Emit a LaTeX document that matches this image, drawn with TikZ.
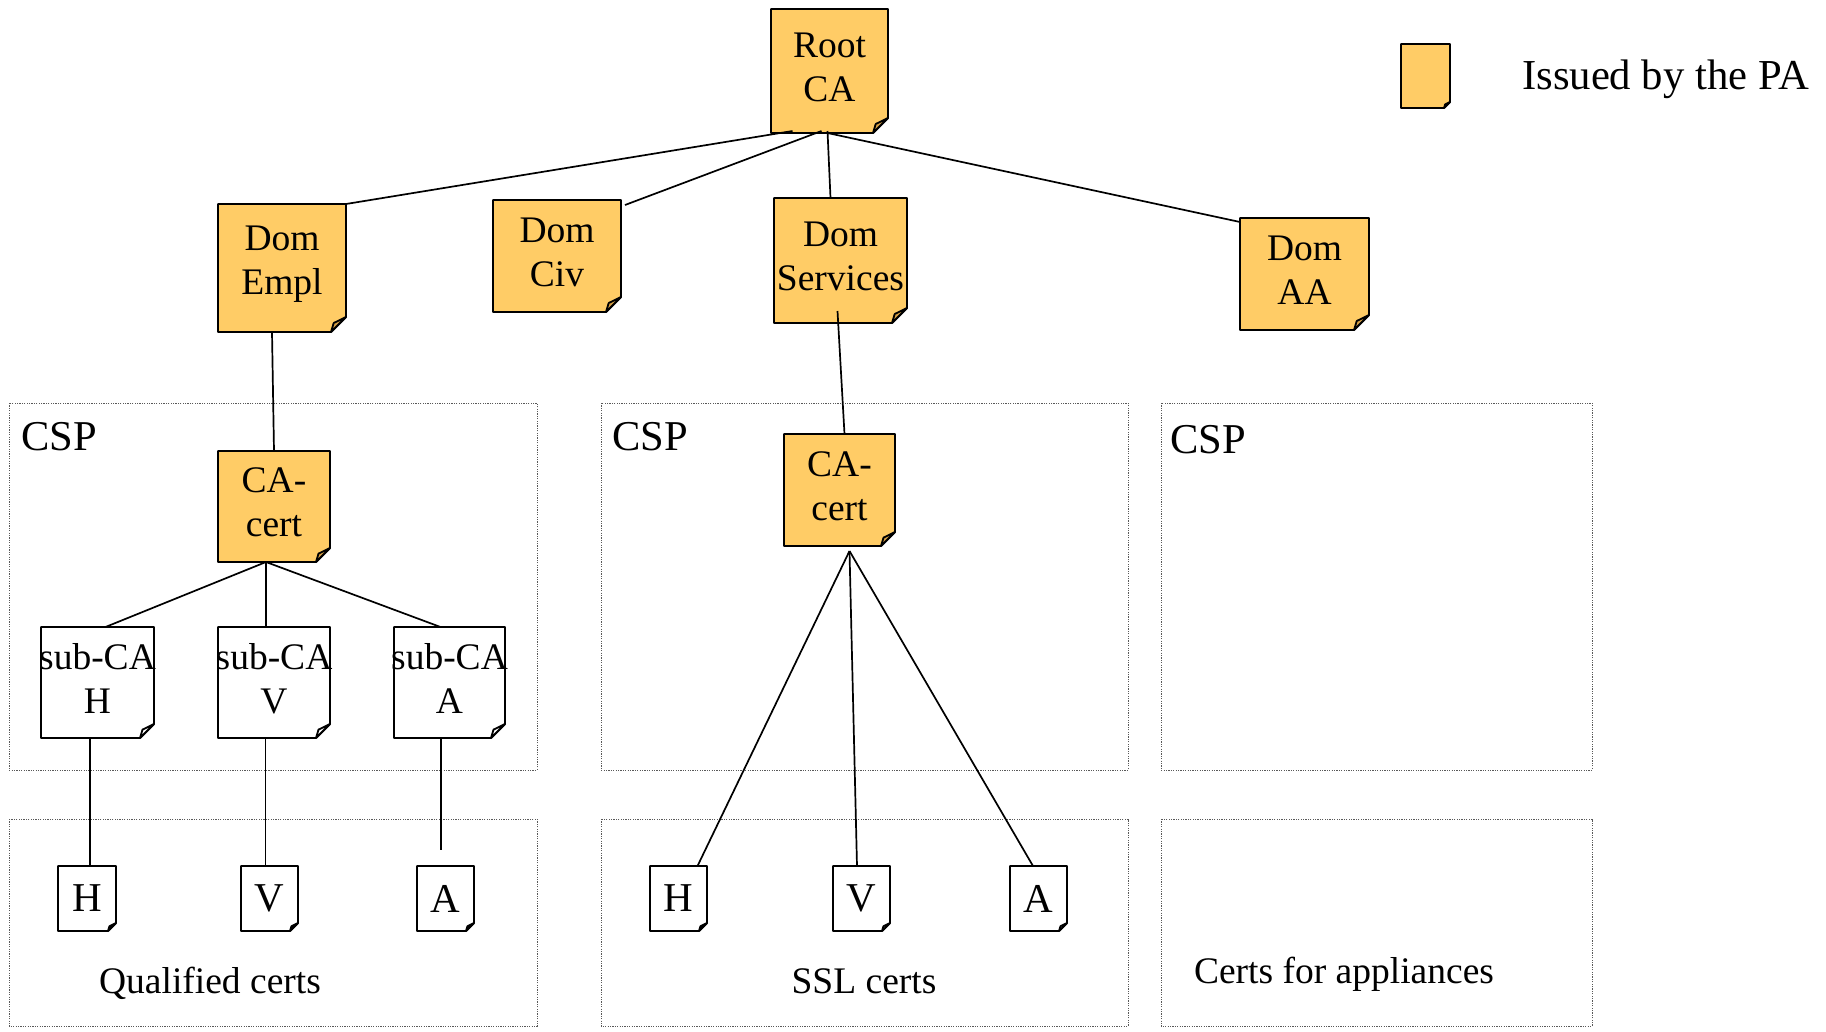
\documentclass[tikz,border=0pt]{standalone}
\usepackage{fontspec}
\setmainfont{Liberation Serif}
\definecolor{pa}{RGB}{255,204,102}
\definecolor{paflap}{RGB}{214,160,70}
\tikzset{
  docline/.style={line width=1.8pt, line join=round},
  docbox/.style={inner sep=0pt, outer sep=0pt, draw=none},
  doctext/.style={inner sep=0pt, outer sep=0pt, align=center, draw=none,
    font=\fontsize{37.5}{44}\selectfont},
  conn/.style={line width=1.7pt},
  cspline/.style={line width=1pt, black!65, dash pattern=on 1.2pt off 1.2pt},
  lbl/.style={inner sep=0pt, font=\fontsize{37.5}{44}\selectfont},
}
\newcommand{\tshift}{4}
% #1 name, #2 x1, #3 y1, #4 x2, #5 y2, #6 fold, #7 fill, #8 flap fill, #9 text
\newcommand{\docnode}[9]{%
  \filldraw[docline, fill=#7] (#2,#3) -- (#4,#3) -- (#4,#5-#6) -- (#4-#6,#5) -- (#2,#5) -- cycle;
  \filldraw[docline, fill=#8] (#4-#6,#5) -- (#4-0.82*#6,#5-0.6*#6) -- (#4,#5-#6) -- cycle;
  \node[docbox, minimum width={#4-#2}, minimum height={#5-#3}] (#1) at ({(#2+#4)/2},{(#3+#5)/2}) {};
  \node[doctext] (#1-text) at ([yshift=\tshift]#1.center) {#9};
}
\begin{document}
\begin{tikzpicture}[x=1pt,y=-1pt]
\useasboundingbox (0,0) rectangle (1826,1031);
\fill[white] (0,0) rectangle (1826,1031);

% dotted CSP boxes
\draw[cspline] (9,403) rectangle (537,770);
\draw[cspline] (601,403) rectangle (1128,770);
\draw[cspline] (1161,403) rectangle (1592,770);
\draw[cspline] (9,819) rectangle (537,1026);
\draw[cspline] (601,819) rectangle (1128,1026);
\draw[cspline] (1161,819) rectangle (1592,1026);

% PA issued certificates
\docnode{root}{771}{9}{888}{133}{15}{pa}{paflap}{Root\\CA}
\docnode{dempl}{218}{204}{346}{332}{15}{pa}{paflap}{Dom\\Empl}
\docnode{dciv}{493}{200}{621}{312}{15}{pa}{paflap}{Dom\\Civ}
\docnode{dserv}{774}{198}{907}{323}{15}{pa}{paflap}{Dom\\Services}
\docnode{daa}{1240}{218}{1369}{330}{15}{pa}{paflap}{Dom\\AA}
\docnode{caone}{218}{451}{330}{562}{14}{pa}{paflap}{CA-\\cert}
\docnode{catwo}{784}{434}{895}{546}{14}{pa}{paflap}{CA-\\cert}
\docnode{legend}{1401}{44}{1450}{108}{6}{pa}{paflap}{}

% sub-CAs
\docnode{subH}{41}{627}{154}{738}{14}{white}{white}{sub-CA\\H}
\docnode{subV}{218}{627}{330}{738}{14}{white}{white}{sub-CA\\V}
\docnode{subA}{394}{627}{505}{738}{14}{white}{white}{sub-CA\\A}

% leaf certificates
\renewcommand{\tshift}{0}
\docnode{leafHa}{58}{866}{116}{931}{8}{white}{white}{\fontsize{41}{44}\selectfont H}
\docnode{leafVa}{241}{866}{298}{931}{8}{white}{white}{\fontsize{41}{44}\selectfont V}
\docnode{leafAa}{417}{866}{474}{931}{8}{white}{white}{\fontsize{41}{44}\selectfont A}
\docnode{leafHb}{650}{866}{707}{931}{8}{white}{white}{\fontsize{41}{44}\selectfont H}
\docnode{leafVb}{833}{866}{890}{931}{8}{white}{white}{\fontsize{41}{44}\selectfont V}
\docnode{leafAb}{1010}{866}{1067}{931}{8}{white}{white}{\fontsize{41}{44}\selectfont A}

% connectors from root
\draw[conn] ([xshift=-37,yshift=2]root.south) -- (dempl.north east);
\draw[conn] ([xshift=-8,yshift=2]root.south) -- ([xshift=4,yshift=-5]dciv.north east);
\draw[conn] ([xshift=-2,yshift=2]root.south) -- ([xshift=-10]dserv.north);
\draw[conn] ([xshift=-2]root.south) -- ([yshift=-4]daa.north west);

% domain CAs to CA-certs
\draw[conn] ([xshift=-10]dempl.south) -- (caone.north);
\draw[conn] ([xshift=-3,yshift=12]dserv.south) -- ([xshift=5]catwo.north);

% CA-cert (left) to sub-CAs
\coordinate (cab) at ([xshift=-8]caone.south);
\draw[conn] (cab) -- ([xshift=8]subH.north);
\draw[conn] (cab) -- ([xshift=-8]subV.north);
\draw[conn] (cab) -- ([xshift=-9]subA.north);

% sub-CAs to leaves
\coordinate (sH) at ([xshift=-7.5]subH.south);
\coordinate (sV) at ([xshift=-8.5]subV.south);
\coordinate (sA) at ([xshift=-8.5]subA.south);
\coordinate (eA) at (sA |- leafAa.north);
\draw[conn] (sH) -- (sH |- leafHa.north);
\draw[conn] (sV) -- (sV |- leafVa.north);
\draw[conn] (sA) -- ([yshift=16]eA);

% CA-cert (middle) to SSL leaves
\coordinate (cbb) at ([xshift=10,yshift=-5]catwo.south);
\draw[conn] (cbb) -- ([xshift=19]leafHb.north);
\draw[conn] (cbb) -- ([xshift=-4.5]leafVb.north);
\draw[conn] (cbb) -- ([xshift=-5.5]leafAb.north);

% labels
\node[lbl, anchor=west, font=\fontsize{42.5}{44}\selectfont] (cspa) at (21,437) {CSP};
\node[lbl, anchor=west, font=\fontsize{42.5}{44}\selectfont] (cspb) at (612,437) {CSP};
\node[lbl, anchor=west, font=\fontsize{42.5}{44}\selectfont] (cspc) at (1170,440) {CSP};
\node[lbl] (qual) at (210,983) {Qualified certs};
\node[lbl] (ssl) at (864,981) {SSL certs};
\node[lbl] (appl) at (1344,974) {Certs for appliances};
\node[lbl, anchor=west, font=\fontsize{42.7}{44}\selectfont] (legtxt) at (1522,79) {Issued by the PA};
\end{tikzpicture}
\end{document}
